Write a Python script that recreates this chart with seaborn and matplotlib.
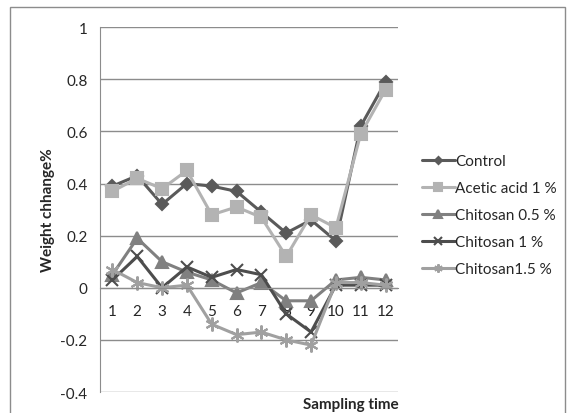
import numpy as np
import pandas as pd
import seaborn as sns
import matplotlib
matplotlib.use("Agg")
import matplotlib.pyplot as plt
from matplotlib.patches import Rectangle

# 데이터
sampling_time = list(range(1, 13))
control = [0.39, 0.43, 0.32, 0.40, 0.39, 0.37, 0.29, 0.21, 0.26, 0.18, 0.62, 0.79]
acetic_acid = [0.37, 0.42, 0.38, 0.45, 0.28, 0.31, 0.27, 0.12, 0.28, 0.23, 0.59, 0.76]
chitosan_05 = [0.05, 0.19, 0.10, 0.06, 0.03, -0.02, 0.02, -0.05, -0.05, 0.03, 0.04, 0.03]
chitosan_1 = [0.03, 0.12, 0.00, 0.08, 0.04, 0.07, 0.05, -0.10, -0.17, 0.01, 0.01, 0.01]
chitosan_15 = [0.07, 0.02, 0.00, 0.01, -0.14, -0.18, -0.17, -0.20, -0.22, 0.02, 0.02, 0.01]

series_names = ['Control', 'Acetic acid 1 %', 'Chitosan 0.5 %', 'Chitosan 1 %', 'Chitosan1.5 %']
series_values = [control, acetic_acid, chitosan_05, chitosan_1, chitosan_15]

sns.set_style('white')
plt.rcParams['font.family'] = ['Lato', 'DejaVu Sans']

df = pd.DataFrame({
    'time': sampling_time * len(series_names),
    'value': sum(series_values, []),
    'series': np.repeat(series_names, len(sampling_time)),
})

colors = ['#5a5a5a', '#b3b3b3', '#808080', '#4d4d4d', '#a0a0a0']
markers = ['D', 's', '^', 'x', (6, 2, 0)]
msizes = [6, 9, 9, 9, 10]

fig = plt.figure(figsize=(5.73, 4.14), dpi=100)
ax = fig.add_axes([0.1745, 0.0507, 0.52, 0.8813])

for name, c, m, ms in zip(series_names, colors, markers, msizes):
    sub = df[df['series'] == name]
    sns.lineplot(data=sub, x='time', y='value', ax=ax, color=c, marker=m,
                 markersize=ms, linewidth=2.2, markeredgecolor=c,
                 markeredgewidth=1.5, label=name, legend=False)

ax.set_xlim(0.5, 12.5)
ax.set_ylim(-0.4, 1.0)
ax.set_yticks(np.arange(-0.4, 1.01, 0.2))
ax.set_yticklabels(['-0.4', '-0.2', '0', '0.2', '0.4', '0.6', '0.8', '1'])
ax.yaxis.grid(True, color='#8c8c8c', linewidth=1)
ax.set_axisbelow(True)

for s in ['top', 'right']:
    ax.spines[s].set_visible(False)
ax.spines['left'].set_color('#8c8c8c')
ax.spines['bottom'].set_color('#8c8c8c')
ax.spines['bottom'].set_position(('data', 0))

ax.set_xticks(sampling_time)
ax.set_xticklabels([str(t) for t in sampling_time])
ax.set_xticks(np.arange(0.5, 12.6, 1), minor=True)
ax.tick_params(axis='x', which='major', length=0, pad=12, labelsize=11)
ax.tick_params(axis='x', which='minor', length=5, direction='out', color='#8c8c8c')
ax.tick_params(axis='y', length=5, color='#8c8c8c', labelsize=11, pad=4)

ax.set_xlabel('')
ax.set_ylabel('Weight chhange%', fontweight='bold', fontsize=11)
ax.yaxis.set_label_coords(-0.15, 0.5)
fig.text(0.695, 0.005, 'Sampling time', ha='right', va='bottom', fontweight='bold', fontsize=11)

handles, labels = ax.get_legend_handles_labels()
fig.legend(handles, labels, loc='upper left', bbox_to_anchor=(0.725, 0.64),
           frameon=False, fontsize=11, handlelength=2.2, handletextpad=0.0,
           labelspacing=0.85, borderaxespad=0, markerscale=0.6)

fig.patches.append(Rectangle((10 / 573, -0.01), 555 / 573, 1 - 8 / 414 + 0.01,
                             transform=fig.transFigure, fill=False,
                             edgecolor='#8c8c8c', linewidth=1))

fig.savefig('out.png', dpi=100)
